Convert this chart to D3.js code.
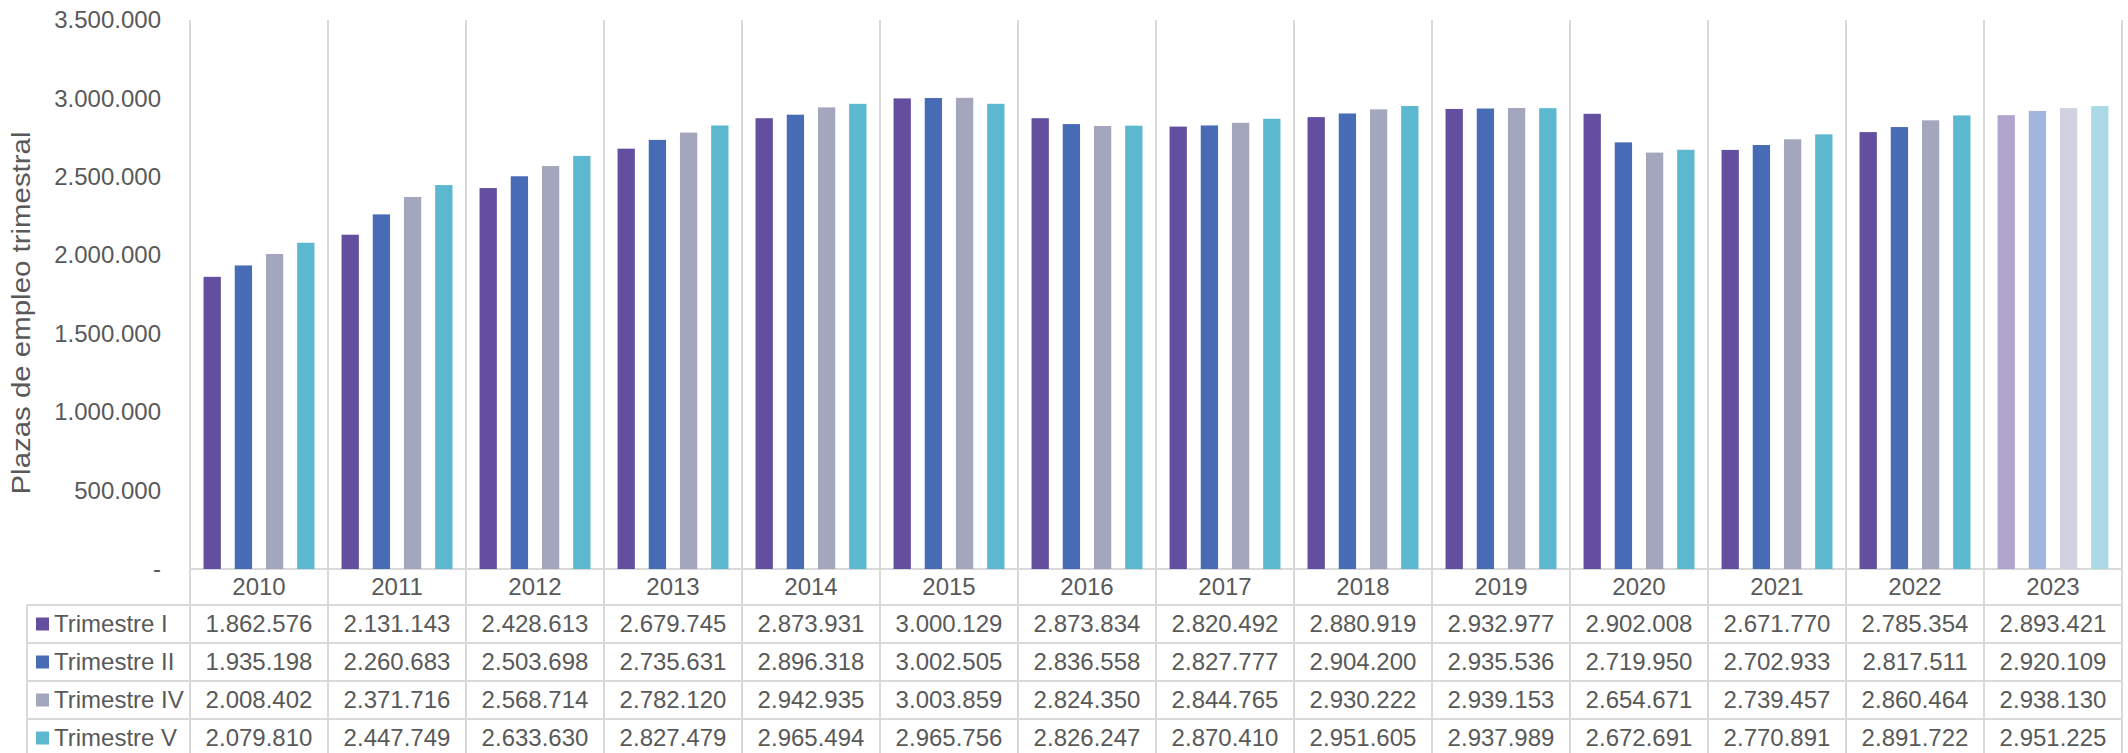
<!DOCTYPE html>
<html>
<head>
<meta charset="utf-8">
<script src="https://cdn.jsdelivr.net/npm/d3@7"></script>
<style>
	body { margin: 0; background: #ffffff; }
	text { font-family: "Liberation Sans", Arial, sans-serif; fill: #595959; }
</style>
</head>
<body>
<script>
const years = ["2010", "2011", "2012", "2013", "2014", "2015", "2016", "2017", "2018", "2019", "2020", "2021", "2022", "2023"];
const seriesNames = ["Trimestre I", "Trimestre II", "Trimestre IV", "Trimestre V"];
const trimestreI = [1862576, 2131143, 2428613, 2679745, 2873931, 3000129, 2873834, 2820492, 2880919, 2932977, 2902008, 2671770, 2785354, 2893421];
const trimestreII = [1935198, 2260683, 2503698, 2735631, 2896318, 3002505, 2836558, 2827777, 2904200, 2935536, 2719950, 2702933, 2817511, 2920109];
const trimestreIV = [2008402, 2371716, 2568714, 2782120, 2942935, 3003859, 2824350, 2844765, 2930222, 2939153, 2654671, 2739457, 2860464, 2938130];
const trimestreV = [2079810, 2447749, 2633630, 2827479, 2965494, 2965756, 2826247, 2870410, 2951605, 2937989, 2672691, 2770891, 2891722, 2951225];
const yTicks = [0, 500000, 1000000, 1500000, 2000000, 2500000, 3000000, 3500000];
const lightYear = "2023";

const seriesValues = [trimestreI, trimestreII, trimestreIV, trimestreV];
const colors = ["#644ea0", "#476bb5", "#a4a6bd", "#5bb8cf"];
const lightColors = ["#b1a5d0", "#a2b5dc", "#d1d2df", "#abd9e6"];

const width = 2128, height = 753;
const plotLeft = 190, plotRight = 2122, plotTop = 20, plotBottom = 569;
const headerHeight = 36, rowHeight = 38, tableLeft = 27;
const gridColor = "#d9d9d9";

const fmt = d3.formatLocale({ decimal: ",", thousands: ".", grouping: [3], currency: ["", ""] }).format(",");

const svg = d3.select("body").append("svg")
	.attr("width", width)
	.attr("height", height);

const x = d3.scaleBand().domain(years).range([plotLeft, plotRight]);
const xInner = d3.scaleBand().domain(seriesNames).range([0, x.bandwidth()])
	.paddingInner(0.4455).paddingOuter(0.434);
const y = d3.scaleLinear().domain([0, 3500000]).range([plotBottom, plotTop]);

// y axis
const yAxis = d3.axisLeft(y)
	.tickValues(yTicks)
	.tickSize(0)
	.tickPadding(29)
	.tickFormat((d) => (d === 0 ? "-" : fmt(d)));
const yAxisG = svg.append("g")
	.attr("transform", "translate(" + plotLeft + ",0)")
	.call(yAxis);
yAxisG.select(".domain").remove();
yAxisG.selectAll("text")
	.style("font-size", "24px")
	.attr("fill", "#595959");

svg.append("text")
	.attr("transform", "translate(30,313) rotate(-90)")
	.attr("text-anchor", "middle")
	.attr("textLength", 363)
	.attr("lengthAdjust", "spacingAndGlyphs")
	.style("font-size", "25px")
	.text("Plazas de empleo trimestral");

// vertical separators (plot + table)
const tableBottom = plotBottom + headerHeight + rowHeight * seriesNames.length;
const bounds = years.map((d) => x(d)).concat([plotRight]);
svg.append("g").selectAll("line")
	.data(bounds)
	.enter()
	.append("line")
	.attr("x1", (d) => d).attr("x2", (d) => d)
	.attr("y1", plotTop).attr("y2", tableBottom)
	.attr("stroke", gridColor)
	.attr("stroke-width", 2);

// horizontal table lines
svg.append("line")
	.attr("x1", plotLeft).attr("x2", plotRight)
	.attr("y1", plotBottom).attr("y2", plotBottom)
	.attr("stroke", gridColor).attr("stroke-width", 2);
const rowLines = d3.range(seriesNames.length + 1).map((i) => plotBottom + headerHeight + i * rowHeight);
svg.append("g").selectAll("line")
	.data(rowLines)
	.enter()
	.append("line")
	.attr("x1", tableLeft).attr("x2", plotRight)
	.attr("y1", (d) => d).attr("y2", (d) => d)
	.attr("stroke", gridColor)
	.attr("stroke-width", 2);
svg.append("line")
	.attr("x1", tableLeft).attr("x2", tableLeft)
	.attr("y1", plotBottom + headerHeight).attr("y2", tableBottom)
	.attr("stroke", gridColor).attr("stroke-width", 2);

// bars
seriesNames.forEach((name, si) => {
	svg.append("g")
		.selectAll("rect")
		.data(years.map((yr, i) => ({ year: yr, value: seriesValues[si][i] })))
		.enter()
		.append("rect")
		.attr("x", (d) => x(d.year) + xInner(name))
		.attr("width", xInner.bandwidth())
		.attr("y", (d) => y(d.value))
		.attr("height", (d) => y(0) - y(d.value))
		.attr("fill", (d) => (d.year === lightYear ? lightColors[si] : colors[si]));
});

// year header
svg.append("g").selectAll("text")
	.data(years)
	.enter()
	.append("text")
	.attr("x", (d) => x(d) + x.bandwidth() / 2)
	.attr("y", plotBottom + headerHeight / 2)
	.attr("dy", "0.35em")
	.attr("text-anchor", "middle")
	.style("font-size", "24px")
	.text((d) => d);

// table rows
seriesNames.forEach((name, si) => {
	const rowMid = plotBottom + headerHeight + si * rowHeight + rowHeight / 2;
	const row = svg.append("g");
	row.append("rect")
		.attr("x", 36).attr("y", rowMid - 6.5)
		.attr("width", 13).attr("height", 13)
		.attr("fill", colors[si]);
	row.append("text")
		.attr("x", 54).attr("y", rowMid)
		.attr("dy", "0.35em")
		.style("font-size", "24px")
		.text(name);
	row.selectAll("text.val")
		.data(seriesValues[si])
		.enter()
		.append("text")
		.attr("class", "val")
		.attr("x", (d, i) => x(years[i]) + x.bandwidth() / 2)
		.attr("y", rowMid)
		.attr("dy", "0.35em")
		.attr("text-anchor", "middle")
		.style("font-size", "24px")
		.text((d) => fmt(d));
});
</script>
</body>
</html>
